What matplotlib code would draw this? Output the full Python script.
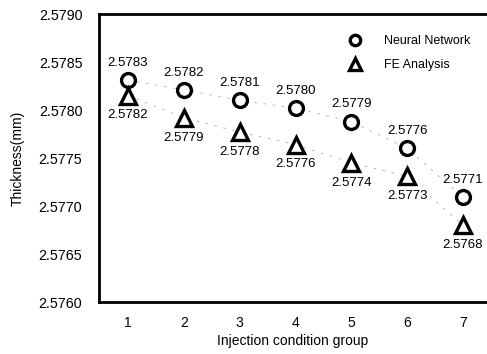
import matplotlib
matplotlib.use("Agg")
import matplotlib.pyplot as plt

plt.rcParams['font.family'] = ['Liberation Sans', 'DejaVu Sans']

groups = [1, 2, 3, 4, 5, 6, 7]
nn_values = [2.57831, 2.57821, 2.57810, 2.57802, 2.57788, 2.57760, 2.57709]
fe_values = [2.57815, 2.57792, 2.57777, 2.57764, 2.57745, 2.57731, 2.57680]
nn_labels = ["2.5783", "2.5782", "2.5781", "2.5780", "2.5779", "2.5776", "2.5771"]
fe_labels = ["2.5782", "2.5779", "2.5778", "2.5776", "2.5774", "2.5773", "2.5768"]
yticks = [2.5760, 2.5765, 2.5770, 2.5775, 2.5780, 2.5785, 2.5790]

fig = plt.figure(figsize=(4.87, 3.54), dpi=100)
ax = fig.add_axes([99/487, 1-302/354, (487-99)/487, (302-14)/354])

ax.plot(groups, nn_values, linestyle=(0, (3, 8)), color='#aaaaaa', lw=0.6, zorder=1)
ax.plot(groups, fe_values, linestyle=(0, (3, 8)), color='#aaaaaa', lw=0.6, zorder=1)
ax.plot(groups, nn_values, 'o', ms=10, mfc='white', mec='black', mew=2.4,
        linestyle='none', label='Neural Network', zorder=3)
ax.plot(groups, fe_values, '^', ms=11, mfc='white', mec='black', mew=2.4,
        linestyle='none', label='FE Analysis', zorder=3)

for x, y, t in zip(groups, nn_values, nn_labels):
    ax.annotate(t, (x, y), xytext=(0, 8), textcoords='offset points',
                ha='center', va='bottom', fontsize=9.5)
for x, y, t in zip(groups, fe_values, fe_labels):
    ax.annotate(t, (x, y), xytext=(0, -10), textcoords='offset points',
                ha='center', va='top', fontsize=9.5)

ax.set_xlim(0.48, 7.43)
ax.set_ylim(2.5760, 2.5790)
ax.set_xticks(groups)
ax.set_yticks(yticks)
ax.set_yticklabels([f"{v:.4f}" for v in yticks])
ax.tick_params(axis='y', length=0, labelsize=10.3, pad=12)
ax.tick_params(axis='x', length=0, labelsize=10, pad=10)
for s in ax.spines.values():
    s.set_linewidth(2)
ax.spines['right'].set_visible(False)

ax.set_xlabel('Injection condition group', fontsize=10, labelpad=3)
ax.set_ylabel('Thickness(mm)', fontsize=10, labelpad=10)

leg = ax.legend(loc='upper right', bbox_to_anchor=(0.985, 0.965), frameon=False,
                fontsize=9, markerscale=0.75, handletextpad=1.8, labelspacing=0.95,
                handlelength=1)

fig.savefig('out.png', dpi=100)
